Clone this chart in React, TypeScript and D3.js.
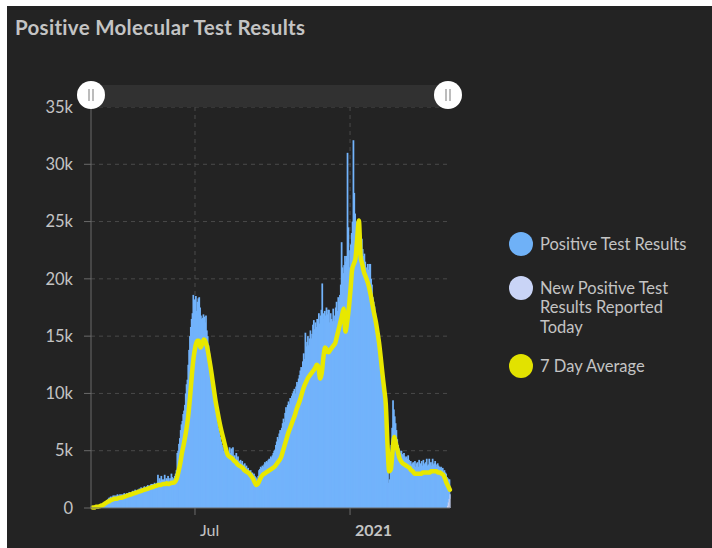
import React from 'react';
import * as d3 from 'd3';

// daily positive molecular test results (thousands), Mar 1 2020 .. Apr 29 2021
const positive: number[] = [
  0, 0, 0, 0.05, 0.05, 0.1, 0.1,
  0.1, 0.15, 0.2, 0.2, 0.25, 0.3, 0.3,
  0.4, 0.5, 0.6, 0.7, 0.8, 0.9, 0.9,
  1.0, 0.9, 1.0, 1.1, 1.0, 1.1, 1.0,
  1.1, 1.2, 1.1, 1.0, 1.2, 1.1, 1.2,
  1.1, 1.2, 1.3, 1.2, 1.1, 1.3, 1.2,
  1.3, 1.4, 1.3, 1.2, 1.4, 1.5, 1.4,
  1.5, 1.6, 1.5, 1.4, 1.6, 1.5, 1.7,
  1.6, 1.8, 1.7, 1.6, 1.8, 1.9, 1.7,
  1.8, 1.9, 2.0, 1.8, 1.9, 2.0, 2.1,
  2.0, 2.1, 2.0, 2.2, 2.1, 2.0, 2.2,
  2.9, 2.3, 2.6, 2.4, 2.8, 2.5, 2.3,
  2.5, 2.9, 2.4, 2.6, 2.5, 2.8, 2.6,
  2.4, 2.6, 3.0, 2.7, 2.5, 2.6, 2.8,
  3.0, 3.3, 4.8, 5.0, 5.6, 6.1, 6.8,
  7.3, 7.6, 8.2, 8.5, 9.0, 10.0, 10.8,
  11.2, 12.5, 13.8, 15.0, 15.8, 16.5, 17.0,
  18.6, 18.2, 17.0, 18.5, 17.2, 18.0, 18.3,
  18.4, 17.5, 16.8, 16.5, 16.6, 16.9, 16.7,
  16.2, 16.8, 15.5, 15.0, 14.2, 13.5, 12.6,
  12.0, 11.2, 10.6, 10.0, 9.4, 8.9, 8.3,
  7.8, 7.4, 7.0, 6.6, 6.2, 5.8, 5.5,
  5.3, 5.0, 5.2, 4.9, 4.8, 4.6, 4.7,
  4.6, 5.3, 4.8, 5.2, 4.5, 5.3, 4.4,
  4.6, 4.3, 4.8, 4.2, 4.5, 4.0, 4.1,
  4.2, 3.9, 4.1, 3.8, 3.7, 3.9, 3.6,
  3.7, 3.4, 3.5, 3.3, 3.2, 3.3, 3.0,
  3.1, 2.9, 3.0, 2.8, 2.7, 2.6, 2.5,
  2.8, 3.3, 3.4, 3.6, 3.5, 3.7, 3.6,
  3.8, 4.0, 3.9, 4.1, 4.0, 4.2, 4.3,
  4.2, 4.5, 4.4, 4.6, 4.8, 5.0, 5.1,
  5.5, 5.8, 6.2, 6.0, 6.5, 6.8, 6.6,
  7.0, 7.4, 7.8, 7.5, 8.3, 8.8, 8.5,
  9.0, 9.3, 9.1, 9.6, 9.4, 9.8, 10.0,
  10.2, 10.4, 10.0, 10.6, 11.0, 10.8, 11.3,
  11.6, 12.0, 12.3, 12.1, 12.8, 13.5, 13.0,
  15.3, 14.1, 14.5, 15.0, 14.2, 14.8, 15.5,
  14.8, 15.2, 16.0, 16.4, 15.6, 16.2, 15.8,
  16.5, 15.7, 17.0, 16.1, 16.8, 17.3, 19.6,
  17.0, 16.5, 17.2, 16.8, 17.5, 16.9, 17.3,
  17.3, 16.2, 17.0, 16.5, 16.3, 17.4, 16.8,
  16.3, 17.5, 18.0, 17.2, 18.4, 18.0, 18.6,
  19.5, 23.2, 21.0, 20.5, 21.2, 22.0, 21.5,
  22.0, 31.0, 24.5, 21.0, 22.5, 23.0, 24.0,
  25.0, 32.1, 27.5, 25.7, 24.5, 25.0, 24.2,
  25.0, 24.3, 23.8, 22.0, 23.5, 22.6, 22.0,
  22.2, 21.5, 21.0, 20.5, 21.3, 20.8, 21.3,
  21.3, 20.0, 19.5, 18.4, 18.0, 17.6, 17.0,
  16.4, 15.8, 15.2, 14.6, 14.0, 13.3, 12.6,
  12.0, 11.3, 10.6, 10.0, 9.3, 8.5, 7.6,
  5.0, 2.2, 2.5, 3.5, 5.5, 7.0, 9.4,
  8.6, 8.0, 7.4, 6.8, 6.0, 5.5, 5.2,
  5.0, 4.8, 5.0, 4.7, 4.6, 4.8, 4.5,
  4.4, 4.5, 4.3, 4.6, 4.2, 4.0, 4.1,
  3.8, 3.9, 4.0, 3.7, 4.1, 3.6, 3.9,
  4.0, 3.6, 4.2, 3.8, 3.9, 4.1, 3.7,
  4.2, 3.8, 3.9, 4.0, 4.3, 3.7, 3.8,
  4.3, 3.9, 4.0, 3.7, 4.3, 3.8, 3.9,
  4.1, 3.8, 3.6, 3.9, 3.7, 3.6, 3.5,
  3.6, 3.4, 3.5, 3.2, 3.3, 3.1, 3.0,
  2.7, 2.4, 2.0, 1.7, 0,
];

// newly reported today (thousands), last five days
const newToday: number[] = [0, 0.2, 0.5, 0.8, 1.2];

// 7 day average (thousands), every second day from Mar 1 2020
const avg7: number[] = [
  0.05, 0.05, 0.1, 0.1, 0.15, 0.2, 0.25,
  0.35, 0.45, 0.55, 0.6, 0.7, 0.75, 0.8,
  0.8, 0.85, 0.9, 0.9, 0.95, 1.0, 1.05,
  1.1, 1.15, 1.2, 1.25, 1.3, 1.35, 1.4,
  1.45, 1.5, 1.55, 1.6, 1.65, 1.7, 1.75,
  1.8, 1.85, 1.9, 1.95, 2.0, 2.0, 2.05,
  2.1, 2.1, 2.15, 2.1, 2.15, 2.2, 2.2,
  2.3, 2.6, 3.2, 3.9, 4.8, 5.5, 6.3,
  7.2, 8.4, 10.0, 11.8, 13.2, 14.1, 14.6,
  14.6, 14.0, 14.3, 14.7, 14.5, 14.0, 13.2,
  12.3, 11.3, 10.3, 9.3, 8.5, 7.7, 7.0,
  6.4, 5.8, 5.2, 4.7, 4.5, 4.4, 4.3,
  4.1, 4.0, 3.8, 3.7, 3.6, 3.5, 3.3,
  3.2, 3.1, 3.0, 2.8, 2.6, 2.3, 2.0,
  2.1, 2.4, 2.7, 2.9, 3.0, 3.1, 3.2,
  3.3, 3.4, 3.5, 3.6, 3.8, 4.0, 4.2,
  4.5, 5.0, 5.5, 6.0, 6.5, 6.9, 7.3,
  7.7, 8.1, 8.6, 9.0, 9.4, 9.9, 10.4,
  10.8, 11.1, 11.4, 11.6, 11.8, 12.0, 12.2,
  12.5, 12.3, 11.3, 11.8, 13.2, 14.0, 13.8,
  13.6, 13.8, 14.0, 14.2, 14.4, 15.0, 15.6,
  16.2, 16.8, 17.4, 15.4, 16.2, 17.4, 19.0,
  20.8, 21.3, 21.8, 23.5, 25.1, 22.0, 21.3,
  20.6, 20.2, 19.8, 19.3, 18.6, 17.8, 17.0,
  16.3, 15.4, 14.4, 13.1, 11.7, 10.4, 9.0,
  5.5, 3.2, 3.4, 5.0, 6.2, 5.6, 5.0,
  4.4, 4.1, 3.9, 3.8, 3.7, 3.6, 3.5,
  3.3, 3.2, 3.0, 3.0, 3.0, 3.0, 3.0,
  3.1, 3.1, 3.1, 3.1, 3.1, 3.2, 3.2,
  3.2, 3.2, 3.1, 3.1, 3.0, 2.9, 2.6,
  2.2, 1.9, 1.6,
];

const yTicks = [0, 5, 10, 15, 20, 25, 30, 35];
const xTickDates = [new Date(2020, 6, 1), new Date(2021, 0, 1)];
const xTickLabels = ['Jul', '2021'];
const xTickBold = [false, true];

const legendItems = [
  { lines: ['Positive Test Results'], color: '#6fb1f7' },
  { lines: ['New Positive Test', 'Results Reported', 'Today'], color: '#c9d4f6' },
  { lines: ['7 Day Average'], color: '#e2e200' },
];
const legendY = [244, 288, 366];

const START = new Date(2020, 2, 1);
const END = new Date(2021, 3, 30);

const FONT = 'Lato, "Open Sans", sans-serif';
const TXT = '#c4c4c4';

export default function App() {
  const W = 712, H = 548;
  const x = d3.scaleTime().domain([START, END]).range([92.2, 450.3]);
  const y = d3.scaleLinear().domain([0, 35]).range([508, 107]);
  const day = (i: number) => d3.timeDay.offset(START, i);
  const nOff = positive.length - newToday.length;

  const line = d3
    .line<number>()
    .x((_, i) => x(day(i * 2)) + 0.42)
    .y((v) => y(v))
    .curve(d3.curveMonotoneX);

  const left = 91, right = 449;

  return (
    <svg width={W} height={H} style={{ position: 'absolute', left: 0, top: 0 }}>
      <rect x={0} y={0} width={W} height={H} fill="#ffffff" />
      <rect x={7} y={6} width={W - 7} height={H - 6} fill="#232323" />
      <text x={15} y={35} fill={TXT} fontFamily={FONT} fontWeight={700} fontSize={20.5} letterSpacing={0.3}>
        Positive Molecular Test Results
      </text>

      {/* grid */}
      {yTicks.slice(1).map((t) => (
        <line key={'g' + t} x1={left} x2={right} y1={y(t)} y2={y(t)} stroke="#4a4a4a" strokeDasharray="4,4" />
      ))}
      {xTickDates.map((d, i) => (
        <line key={'vg' + i} x1={x(d)} x2={x(d)} y1={y(35)} y2={y(0)} stroke="#4a4a4a" strokeDasharray="4,4" />
      ))}

      {/* bars */}
      {positive.map((v, i) => {
        const x0 = x(day(i));
        const x1 = x(day(i + 1));
        const base = i >= nOff ? newToday[i - nOff] : 0;
        if (v <= 0) return null;
        return (
          <rect key={'b' + i} x={x0} width={x1 - x0 + 0.9} y={y(base + v)} height={y(base) - y(base + v)} fill="#72b3fb" />
        );
      })}
      {newToday.map((v, i) => {
        if (v <= 0) return null;
        const idx = nOff + i;
        const x0 = x(day(idx));
        const x1 = x(day(idx + 1));
        return <rect key={'n' + i} x={x0} width={x1 - x0 + 0.3} y={y(v)} height={y(0) - y(v)} fill="#c9d4f6" />;
      })}

      {/* 7 day average */}
      <path d={line(avg7) || ''} fill="none" stroke="#e8e800" strokeWidth={4.5} strokeLinejoin="round" strokeLinecap="round" />

      {/* axes */}
      <line x1={left} x2={left} y1={y(35)} y2={y(0)} stroke="#6a6a6a" />
      <line x1={left} x2={450} y1={y(0)} y2={y(0)} stroke="#6a6a6a" />
      {yTicks.map((t) => (
        <g key={'yt' + t}>
          <line x1={84} x2={left} y1={y(t)} y2={y(t)} stroke="#6a6a6a" />
          <text x={73} y={y(t)} dy="0.35em" textAnchor="end" fill={TXT} fontFamily={FONT} fontSize={16.5}>
            {t === 0 ? '0' : t + 'k'}
          </text>
        </g>
      ))}
      {xTickDates.map((d, i) => (
        <g key={'xt' + i}>
          <line x1={x(d)} x2={x(d)} y1={y(0)} y2={y(0) + 7} stroke="#6a6a6a" />
          <text x={x(d) + 5} y={536} fill={TXT} fontFamily={FONT} fontSize={16} fontWeight={xTickBold[i] ? 700 : 400}>
            {xTickLabels[i]}
          </text>
        </g>
      ))}

      {/* scrollbar */}
      <rect x={left} y={85} width={450 - left} height={22} fill="#313131" />
      {[left, 448].map((cx, i) => (
        <g key={'h' + i}>
          <circle cx={cx} cy={95} r={14} fill="#ffffff" />
          <line x1={cx - 2} x2={cx - 2} y1={89} y2={101} stroke="#a0a0a0" strokeWidth={1.4} />
          <line x1={cx + 2} x2={cx + 2} y1={89} y2={101} stroke="#a0a0a0" strokeWidth={1.4} />
        </g>
      ))}

      {/* legend */}
      {legendItems.map((it, i) => (
        <g key={'l' + i}>
          <circle cx={521} cy={legendY[i]} r={12} fill={it.color} />
          {it.lines.map((ln, j) => (
            <text key={j} x={540} y={legendY[i] + j * 19.5} dy="0.35em" fill={TXT} fontFamily={FONT} fontSize={16.5}>
              {ln}
            </text>
          ))}
        </g>
      ))}
    </svg>
  );
}
